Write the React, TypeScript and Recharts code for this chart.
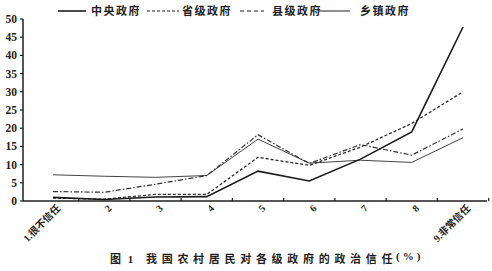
import { Line, LineChart, XAxis, YAxis } from "recharts";

const categories = ["1.很不信任", "2", "3", "4", "5", "6", "7", "8", "9.非常信任"];
const central = [1.0, 0.4, 1.1, 1.2, 8.2, 5.5, 11.5, 19, 47.8];
const provincial = [0.8, 0.5, 1.8, 1.8, 12, 9.8, 14.8, 21.3, 30];
const county = [2.6, 2.4, 4.6, 7.0, 18.2, 10.3, 15.5, 12.6, 19.8];
const township = [7.2, 6.8, 6.5, 7.0, 17.0, 10.4, 11.2, 10.6, 17.4];
const yTicks = [0, 5, 10, 15, 20, 25, 30, 35, 40, 45, 50];

const data = categories.map((c, i) => ({
  cat: c,
  central: central[i],
  provincial: provincial[i],
  county: county[i],
  township: township[i],
}));

const W = 492;
const H = 271;
const M = { top: 19, right: 5, left: 0, bottom: 20 };
const Y_W = 23;
const PAD_L = 30;
const PAD_R = 24;
const plotW = W - M.left - M.right - Y_W;
const step = (plotW - PAD_L - PAD_R) / (categories.length - 1);

const ink = "#1e1e1e";
const font = '"Liberation Serif", "Noto Sans CJK SC", serif';

function CatTick(props: any) {
  const { x, y, payload } = props;
  return (
    <g>
      <line x1={x + step / 2} y1={y} x2={x + step / 2} y2={y - 3} stroke={ink} strokeWidth={1.2} />
      <text
        x={x + 8}
        y={y + 8}
        textAnchor="end"
        transform={`rotate(-45 ${x + 8} ${y + 8})`}
        fontSize={10}
        fontWeight={700}
        fill={ink}
        fontFamily={font}
      >
        {payload.value}
      </text>
    </g>
  );
}

const legend = [
  { name: "中央政府", x1: 58, x2: 86, tx: 91, dash: undefined, w: 1.6 },
  { name: "省级政府", x1: 147, x2: 179, tx: 182, dash: "3 2", w: 1.2 },
  { name: "县级政府", x1: 240, x2: 264, tx: 272, dash: "4 3", w: 1.2 },
  { name: "乡镇政府", x1: 318, x2: 350, tx: 360, dash: undefined, w: 1 },
];

const capStyle = {
  position: "absolute" as const,
  top: 250,
  fontSize: 11,
  fontWeight: 700,
  color: ink,
  whiteSpace: "nowrap" as const,
};

export default function App() {
  return (
    <div style={{ position: "absolute", left: 0, top: 0, width: W, height: H, background: "#fff", fontFamily: font }}>
      <LineChart width={W} height={H} data={data} margin={M}>
        <XAxis
          dataKey="cat"
          interval={0}
          padding={{ left: PAD_L, right: PAD_R }}
          axisLine={{ stroke: ink, strokeWidth: 1.5 }}
          tickLine={false}
          tickSize={0}
          tickMargin={0}
          height={50}
          tick={<CatTick />}
        />
        <YAxis
          width={Y_W}
          domain={[0, 50]}
          ticks={yTicks}
          interval={0}
          axisLine={{ stroke: ink, strokeWidth: 1.5 }}
          tickLine={{ stroke: ink, strokeWidth: 1.2 }}
          tickSize={3}
          tickMargin={3}
          tick={{ fontSize: 11.5, fontWeight: 700, fill: ink, fontFamily: font }}
        />
        <Line type="linear" dataKey="township" stroke="#444" strokeWidth={1} dot={false} isAnimationActive={false} />
        <Line type="linear" dataKey="county" stroke="#333" strokeWidth={1.2} strokeDasharray="5 2 1.5 2" dot={false} isAnimationActive={false} />
        <Line type="linear" dataKey="provincial" stroke="#2a2a2a" strokeWidth={1.3} strokeDasharray="3 2" dot={false} isAnimationActive={false} />
        <Line type="linear" dataKey="central" stroke="#1a1a1a" strokeWidth={1.6} dot={false} isAnimationActive={false} />
      </LineChart>
      <svg width={W} height={22} style={{ position: "absolute", left: 0, top: 0 }}>
        {legend.map((l) => (
          <g key={l.name}>
            <line x1={l.x1} y1={11} x2={l.x2} y2={11} stroke={ink} strokeWidth={l.w} strokeDasharray={l.dash} />
            <text x={l.tx} y={15} fontSize={11} fontWeight={700} fill={ink} fontFamily={font} letterSpacing={1.5}>
              {l.name}
            </text>
          </g>
        ))}
      </svg>
      <div style={{ ...capStyle, left: 110, letterSpacing: 2 }}>图 1</div>
      <div style={{ ...capStyle, left: 146, letterSpacing: 4.7 }}>我国农村居民对各级政府的政治信任</div>
      <div style={{ ...capStyle, left: 396, letterSpacing: 3 }}>(%)</div>
    </div>
  );
}
